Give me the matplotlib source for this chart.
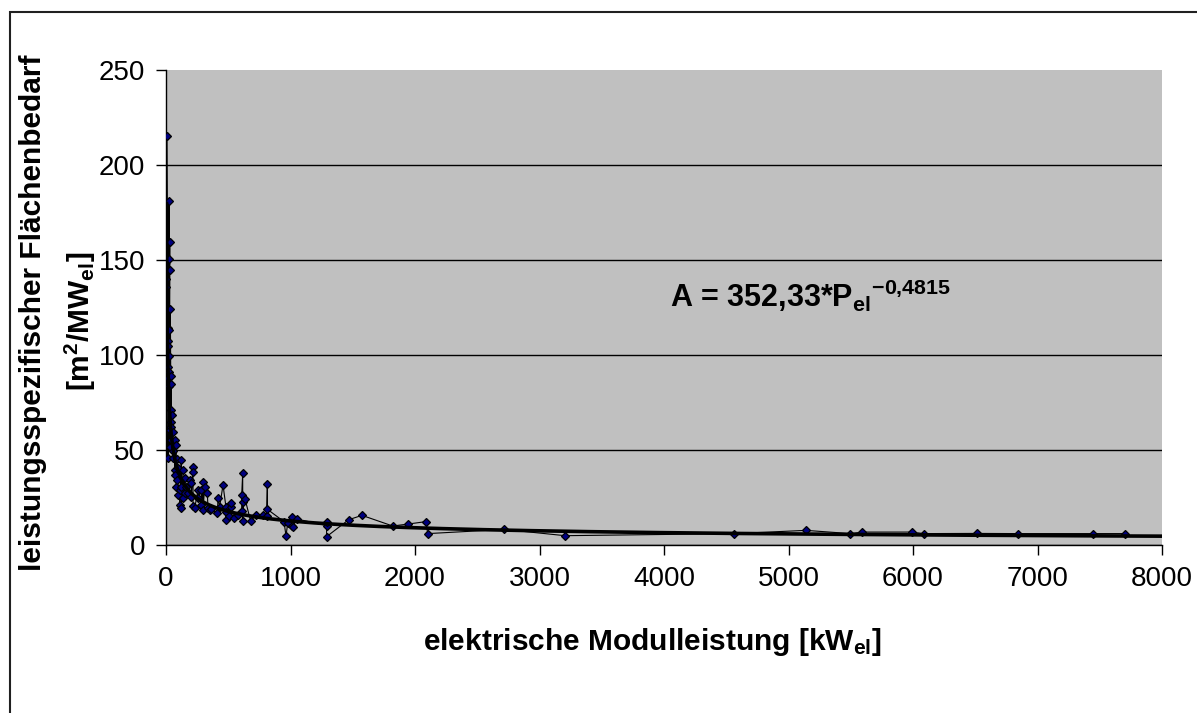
import numpy as np
import matplotlib
matplotlib.use("Agg")
import matplotlib.pyplot as plt
from matplotlib.patches import Rectangle

plt.rcParams['font.family'] = ['Liberation Sans', 'DejaVu Sans']
plt.rcParams['mathtext.fontset'] = 'custom'
plt.rcParams['mathtext.rm'] = 'Liberation Sans'
plt.rcParams['mathtext.bf'] = 'Liberation Sans:bold'
plt.rcParams['mathtext.it'] = 'Liberation Sans:italic'

# ---- data: electric module power [kW_el] and specific area demand [m2/MW_el]
power_kw = [8, 24, 30, 24, 30, 4, 4, 35, 16, 22, 16, 16, 24, 16, 24, 38, 16, 43, 24,
            38, 48, 38, 43, 56, 30, 38, 70, 83, 30, 56, 16, 56, 91, 123, 70, 96, 137,
            217, 217, 70, 91, 150, 190, 83, 123, 110, 163, 203, 297, 311, 96, 150, 177,
            257, 284, 332, 137, 203, 257, 110, 123, 217, 230, 284, 297, 337, 364, 418,
            431, 412, 458, 484, 484, 353, 482, 508, 520, 520, 546, 581, 608, 616, 608,
            621, 635, 616, 680, 723, 781, 814, 814, 809, 948, 964, 977, 1010, 1018,
            1050, 1009, 1290, 1290, 1290, 1467, 1574, 1821, 1941, 2088, 2102, 2717,
            3205, 4565, 5141, 5497, 5593, 5990, 6086, 6514, 6846, 7448, 7703]
area_spec = [215.4, 181, 159.3, 150.4, 144.7, 140, 136, 124, 114.4, 113, 107.4, 104.9,
             99.6, 93.9, 91.2, 89.1, 87.7, 85, 83.8,
             71, 68.4, 64.9, 62.3, 59.6, 60.5, 55.3, 55.3, 52.6, 51.7, 49.6, 45.6, 45.6,
             45.1, 44.7, 39.5, 40.4, 39.5, 41.2, 38.6, 36.8, 34.2, 35.1, 34.2, 30.7, 30.7,
             28.9, 30.7, 32.5, 33.3, 30.7, 26.3, 27.2, 27.2, 28.9, 28.9, 27.5, 24.5, 25.4,
             24.5, 21, 19.3, 20.5, 19.3, 21, 18.4, 19.3, 18.8, 24.5, 20.2, 16.7, 31.6,
             17.5, 13.2, 18.4, 19.8, 15.4, 19.8, 21.9, 14, 15.8, 17.9, 37.7, 26.2, 22.8,
             24.2, 12.5, 12.5, 15.8, 15.8, 31.9, 18.8, 15.4, 12.3, 4.7, 11.4, 14.9, 9.6,
             13.7, 10.2, 10.2, 12.3, 4.4, 13.3, 15.6, 10, 11, 12.3, 6, 8.2,
             4.9, 6, 7.7, 6, 6.8, 6.8, 6, 6.1, 6, 6, 6]

# power trend line coefficients (as shown in the chart)
trend_a = 352.33
trend_b = -0.4815

x_ticks = [0, 1000, 2000, 3000, 4000, 5000, 6000, 7000, 8000]
y_ticks = [0, 50, 100, 150, 200, 250]

W, H = 1197, 713
fig = plt.figure(figsize=(W / 100, H / 100), dpi=100)
fig.patch.set_facecolor('white')

ax = fig.add_axes([166 / W, 1 - 545 / H, (1162 - 166) / W, (545 - 70) / H])
ax.set_facecolor('#C0C0C0')

order = np.argsort(np.array(power_kw), kind='stable')
px = np.array(power_kw, dtype=float)[order]
py = np.array(area_spec, dtype=float)[order]

ax.plot(px, py, color='black', lw=0.8, marker='D', markersize=4.5,
        markerfacecolor='#000080', markeredgecolor='black', markeredgewidth=0.9,
        zorder=3)

tx = np.geomspace(px.min(), 8000, 500)
ax.plot(tx, trend_a * tx ** trend_b, color='black', lw=2.6, zorder=4,
        solid_capstyle='butt')

ax.set_xlim(0, 8000)
ax.set_ylim(0, 250)
ax.set_xticks(x_ticks)
ax.set_yticks(y_ticks)
ax.tick_params(axis='both', direction='out', length=7, width=1, labelsize=20,
               color='black')
ax.tick_params(axis='y', pad=8)
ax.tick_params(axis='x', pad=8)
for s in ['top', 'right']:
    ax.spines[s].set_visible(False)
for s in ['left', 'bottom']:
    ax.spines[s].set_color('black')
    ax.spines[s].set_linewidth(1)

ax.yaxis.grid(True, color='black', lw=1)
ax.set_axisbelow(True)
ax.get_ygridlines()[-1].set_visible(False)

ax.text(4048, 125.4,
        r'A = 352,33*P$_{\mathbf{el}}{}^{\mathbf{-0{,}4815}}$',
        fontsize=22, fontweight='bold', ha='left', va='baseline', zorder=5)

fig.text(652 / W, 1 - 642 / H,
         r'elektrische Modulleistung [kW$_{\mathbf{el}}$]',
         fontsize=21.5, fontweight='bold', ha='center', va='center')
fig.text(33 / W, 1 - 313 / H, 'leistungsspezifischer Flächenbedarf',
         fontsize=21.5, fontweight='bold', ha='center', va='center', rotation=90)
fig.text(80 / W, 1 - 321 / H,
         r'[m$^{\mathbf{2}}$/MW$_{\mathbf{el}}$]',
         fontsize=21.5, fontweight='bold', ha='center', va='center', rotation=90)

fig.add_artist(Rectangle((9.5 / W, -0.05), 1.2, 1 - 12 / H + 0.05,
                         transform=fig.transFigure, fill=False,
                         edgecolor='#202020', lw=1.5, clip_on=False))

fig.savefig('out.png', dpi=100)
